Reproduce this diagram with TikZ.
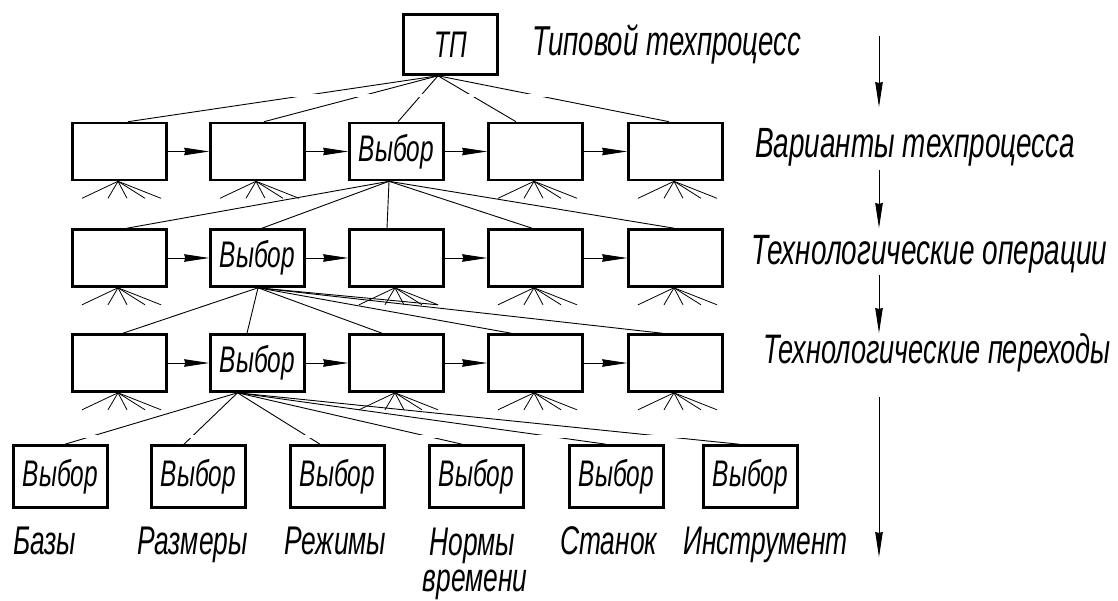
\documentclass[tikz,border=0pt]{standalone}
\usepackage{fontspec}
\setmainfont{Liberation Sans}[FakeStretch=0.66]
\usetikzlibrary{arrows.meta,calc}

% fan of short rays under a box: more branches follow
\newcommand\fanbelow[1]{%
  \foreach \d in {-36,-10,9,27,43}{\draw[ray] ($(#1.south)+(-1.5,0)$) -- ++(\d,17);}}

\begin{document}
\begin{tikzpicture}[x=1pt,y=-1pt,
  box/.style={draw, line width=2.6pt, minimum width=94pt, minimum height=57pt,
    inner sep=0pt, font=\itshape\fontsize{37}{40}\selectfont},
  lowbox/.style={box, minimum height=62pt},
  link/.style={line width=0.9pt},
  ray/.style={line width=0.8pt},
  flow/.style={line width=0.9pt, -{Stealth[length=25pt,width=7.5pt,inset=1pt]}},
  lbl/.style={inner sep=0pt, anchor=base west, font=\itshape\fontsize{40}{40}\selectfont},
]
\useasboundingbox (0,0) rectangle (1118,601);

% ---- boxes ----
\node[box, minimum height=60pt] (tp) at (450.5,44.5) {ТП};

\node[box] (v1) at (119.5,151.5) {};
\node[box] (v2) at (257.5,151.5) {};
\node[box] (v3) at (396.5,151.5) {Выбор};
\node[box] (v4) at (535.5,151.5) {};
\node[box] (v5) at (675.5,151.5) {};

\node[box] (o1) at (119.5,258) {};
\node[box] (o2) at (257.5,258) {Выбор};
\node[box] (o3) at (396.5,258) {};
\node[box] (o4) at (535.5,258) {};
\node[box] (o5) at (675.5,258) {};

\node[box] (p1) at (119.5,363) {};
\node[box] (p2) at (257.5,363) {Выбор};
\node[box] (p3) at (396.5,363) {};
\node[box] (p4) at (535.5,363) {};
\node[box] (p5) at (675.5,363) {};

\node[lowbox] (b1) at (60.5,476.5) {Выбор};
\node[lowbox] (b2) at (198.5,476.5) {Выбор};
\node[lowbox] (b3) at (337.5,476.5) {Выбор};
\node[lowbox] (b4) at (476.5,476.5) {Выбор};
\node[lowbox] (b5) at (616.5,476.5) {Выбор};
\node[lowbox] (b6) at (750.5,476.5) {Выбор};

% ---- arrows along each row ----
\foreach \r in {v,o,p}{
  \draw[flow] (\r1.east) -- (\r2.west);
  \draw[flow] (\r2.east) -- (\r3.west);
  \draw[flow] (\r3.east) -- (\r4.west);
  \draw[flow] (\r4.east) -- (\r5.west);
}

% ---- tree links ----
\foreach \t/\d in {v1/8.5, v2/6.5, v3/1.5, v4/-19.5, v5/-6.5}
  \draw[link] ($(tp.south)+(-12.5,0)$) -- ($(\t.north)+(\d,0)$);
\foreach \t/\d in {o1/7.5, o2/4.5, o3/-9.5, o4/-3.5, o5/-1.5}
  \draw[link] ($(v3.south)+(-7.5,0)$) -- ($(\t.north)+(\d,0)$);
\foreach \t/\d in {p1/3.5, p2/-10.5, p3/-14.5, p4/-24.5, p5/-13.5}
  \draw[link] ($(o2.south)+(0.5,0)$) -- ($(\t.north)+(\d,0)$);
\draw[link] ($(o2.south)+(0.5,0)$) -- ($(o3.south)+(41.5,17)$);
\foreach \t/\d in {b1/4.5, b2/-14.5, b3/-17.5, b4/-14.5, b5/-10.5, b6/-11.5}
  \draw[link] ($(p2.south)+(-20,0)$) -- ($(\t.north)+(\d,0)$);

% breaks in the long links
\fill[white] (40,94) rectangle (760,97);
\fill[white] (0,434.5) rectangle (860,437.5);

% ---- open branches ----
\foreach \b in {v1,v2,v4,v5,o1,o3,o4,o5,p1,p3,p4,p5}{\fanbelow{\b}}

% ---- level axis ----
\coordinate (r0) at (879,36);
\coordinate (r1) at (879,107);
\coordinate (r2) at (879,170);
\coordinate (r3) at (879,228);
\coordinate (r4) at (879,275);
\coordinate (r5) at (879,333);
\coordinate (r6) at (879,397);
\coordinate (r7) at (879,557);
\draw[flow] (r0) -- (r1);
\draw[flow] (r2) -- (r3);
\draw[flow] (r4) -- (r5);
\draw[flow] (r6) -- (r7);

% ---- level names ----
\node[lbl, font=\itshape\fontsize{41.8}{40}\selectfont] (lTP) at (532,56) {Типовой техпроцесс};
\node[lbl, font=\itshape\fontsize{42.3}{40}\selectfont] (lVar) at (755,158) {Варианты техпроцесса};
\node[lbl, font=\itshape\fontsize{42.4}{40}\selectfont] (lOp) at (751,265) {Технологические операции};
\node[lbl, font=\itshape\fontsize{41.2}{40}\selectfont] (lPer) at (763,363) {Технологические переходы};

% ---- names of the choices ----
\node[lbl] (n1) at (13,554) {Базы};
\node[lbl] (n2) at (137,554) {Размеры};
\node[lbl] (n3) at (284,554) {Режимы};
\node[lbl, anchor=base] (n4) at (472.5,555) {Нормы};
\node[lbl, anchor=base] (n4b) at (475,591) {времени};
\node[lbl] (n5) at (560,554) {Станок};
\node[lbl] (n6) at (683,554) {Инструмент};
\end{tikzpicture}
\end{document}
